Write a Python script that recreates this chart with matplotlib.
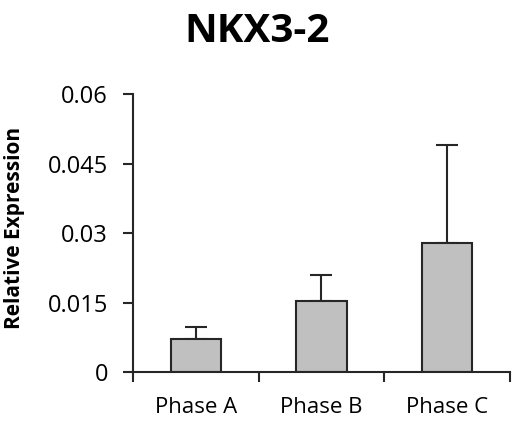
import matplotlib
matplotlib.use("Agg")
import matplotlib.pyplot as plt
import numpy as np

categories = ["Phase A", "Phase B", "Phase C"]
values = [0.0071, 0.0153, 0.0278]
errors = [0.0027, 0.0056, 0.0213]
yticks = [0, 0.015, 0.03, 0.045, 0.06]
yticklabels = ["0", "0.015", "0.03", "0.045", "0.06"]
title = "NKX3-2"
ylabel = "Relative Expression"

plt.rcParams['font.family'] = ['Open Sans', 'DejaVu Sans']

fig = plt.figure(figsize=(5.23, 4.21), dpi=100)
ax = fig.add_axes([0.2543, 0.1157, 0.9751 - 0.2543, 0.7767 - 0.1157])

x = np.arange(len(categories)) + 0.5
ax.bar(x, values, width=0.4, color="#c0c0c0", edgecolor="#262626", linewidth=1.5, zorder=2)
ax.errorbar(x, values, yerr=[np.zeros(len(errors)), errors], fmt="none",
            ecolor="#262626", elinewidth=1.5, capsize=8, capthick=1.5, zorder=1)

ax.set_xlim(0, len(categories))
ax.set_ylim(0, 0.06)
ax.set_yticks(yticks)
ax.set_yticklabels(yticklabels, fontsize=17)
ax.set_xticks(np.arange(len(categories) + 1))
ax.set_xticklabels([])
ax.set_xticks(x, minor=True)
ax.set_xticklabels(categories, minor=True, fontsize=16)
ax.tick_params(axis='x', which='minor', length=0, pad=18)
ax.tick_params(axis='x', which='major', length=7, width=1.5, direction='out', color="#262626")
ax.tick_params(axis='y', length=7, width=1.5, direction='out', color="#262626", pad=11)

for s in ["top", "right"]:
    ax.spines[s].set_visible(False)
for s in ["left", "bottom"]:
    ax.spines[s].set_linewidth(1.5)
    ax.spines[s].set_color("#262626")

ax.set_ylabel(ylabel, fontsize=15, fontweight="bold")
ax.yaxis.set_label_coords(-0.286, 0.519)
fig.text(0.492, 0.925, title, fontsize=29, fontweight="bold", ha="center", va="center")

fig.savefig("out.png", dpi=100)
